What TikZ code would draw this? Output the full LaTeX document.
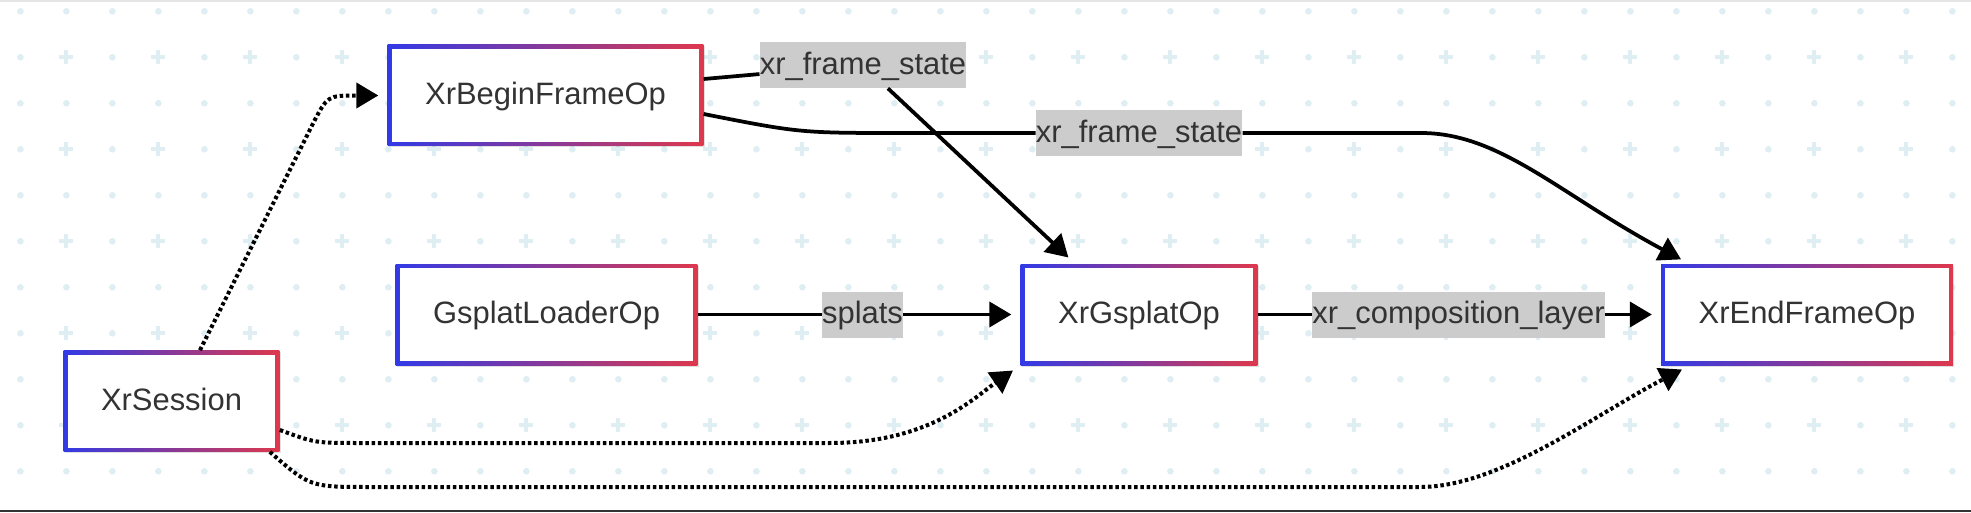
\documentclass[tikz,border=0pt]{standalone}
\usepackage{fontspec}
\setmainfont{Liberation Sans}
\usetikzlibrary{arrows.meta,shadows}

\definecolor{opblue}{RGB}{50,58,230}
\definecolor{opred}{RGB}{222,56,76}
\definecolor{gridblue}{RGB}{222,238,243}
\definecolor{lblgray}{RGB}{204,204,204}
\definecolor{txt}{RGB}{51,51,51}

\newcommand{\opfont}{\fontsize{17.6}{21}\selectfont}

\begin{document}
\begin{tikzpicture}[
  op/.style={rectangle, minimum height=2.02cm, inner xsep=0.75cm, font=\opfont, text=txt,
    text height=14pt, text depth=3.5pt,
    drop shadow={shadow xshift=0.03cm, shadow yshift=-0.03cm, fill=black, opacity=0.12},
    path picture={
      \shade[left color=opblue, right color=opred] (path picture bounding box.south west) rectangle (path picture bounding box.north east);
      \fill[white] ([shift={(0.08cm,0.08cm)}]path picture bounding box.south west) rectangle ([shift={(-0.08cm,-0.08cm)}]path picture bounding box.north east);
    }},
  lbl/.style={fill=lblgray, font=\opfont, text=txt, inner xsep=0pt, inner ysep=0pt,
    minimum height=0.92cm, text height=14pt, text depth=3.5pt},
  flow/.style={-{Triangle[length=0.44cm, width=0.5cm]}, line width=0.075cm, shorten >=0.18cm},
  dep/.style={flow, line width=0.08cm, dash pattern=on 0.07cm off 0.055cm},
]

% === Background grid ===
\fill[white] (0,0) rectangle (39.42,10.24);
\useasboundingbox (0,0) rectangle (39.42,10.24);
\foreach \r in {0,...,10}{
  \foreach \c in {0,...,42}{
    \pgfmathsetmacro\gx{0.408+0.92*\c}
    \pgfmathsetmacro\gy{10.014-0.92*\r}
    \pgfmathparse{int(mod(\r,2)*mod(\c,2))}
    \ifnum\pgfmathresult=1
      \draw[gridblue, line width=0.08cm] (\gx-0.14,\gy) -- (\gx+0.14,\gy) (\gx,\gy-0.14) -- (\gx,\gy+0.14);
    \else
      \fill[gridblue] (\gx,\gy) circle (0.066);
    \fi
  }
}
\draw[gray!20, line width=0.04cm] (0,10.22) -- (39.42,10.22);
\draw[black!80, line width=0.04cm] (0,0.02) -- (39.42,0.02);

% === Operators ===
\node[op] (begin) at (10.91, 8.33) {XrBeginFrameOp};
\node[op] (loader) at (10.93, 3.95) {GsplatLoaderOp};
\node[op] (session) at (3.43, 2.22) {XrSession};
\node[op] (gsplat) at (22.78, 3.95) {XrGsplatOp};
\node[op] (endf) at (36.14, 3.95) {XrEndFrameOp};

% === Edge labels ===
\node[lbl] (fs1) at (17.26, 8.94) {xr\_frame\_state};
\node[lbl] (fs2) at (22.78, 7.58) {xr\_frame\_state};
\node[lbl] (splats) at (17.25, 3.95) {splats};
\node[lbl] (comp) at (29.17, 3.95) {xr\_composition\_layer};

% === Data flow ===
\draw[flow] ([yshift=0.33cm]begin.east) -- (fs1) -- ([xshift=-1.28cm]gsplat.north);
\draw[flow] ([yshift=-0.37cm]begin.east) .. controls (16.0,7.58) .. (18.1,7.58) -- (fs2) -- (28.42,7.58)
  .. controls (30.0,7.58) and (31.2,6.35) .. ([xshift=-2.36cm]endf.north);
\draw[flow] (loader) -- (splats) -- (gsplat);
\draw[flow] (gsplat) -- (comp) -- (endf);

% === Session dependencies ===
\draw[dep] ([xshift=0.57cm]session.north) -- (6.25,7.75) .. controls (6.55,8.33) .. (begin.west);
\draw[dep] ([yshift=-0.58cm]session.east) .. controls (6.3,1.38) .. (7.2,1.38) -- (16.6,1.38)
  .. controls (18.6,1.38) and (19.5,2.3) .. (gsplat.south west);
\draw[dep] ([xshift=-0.2cm]session.south east) .. controls (6.2,0.5) .. (7.4,0.5) -- (28.4,0.5)
  .. controls (30.0,0.5) and (31.9,1.95) .. ([xshift=-2.34cm]endf.south);

\end{tikzpicture}
\end{document}
